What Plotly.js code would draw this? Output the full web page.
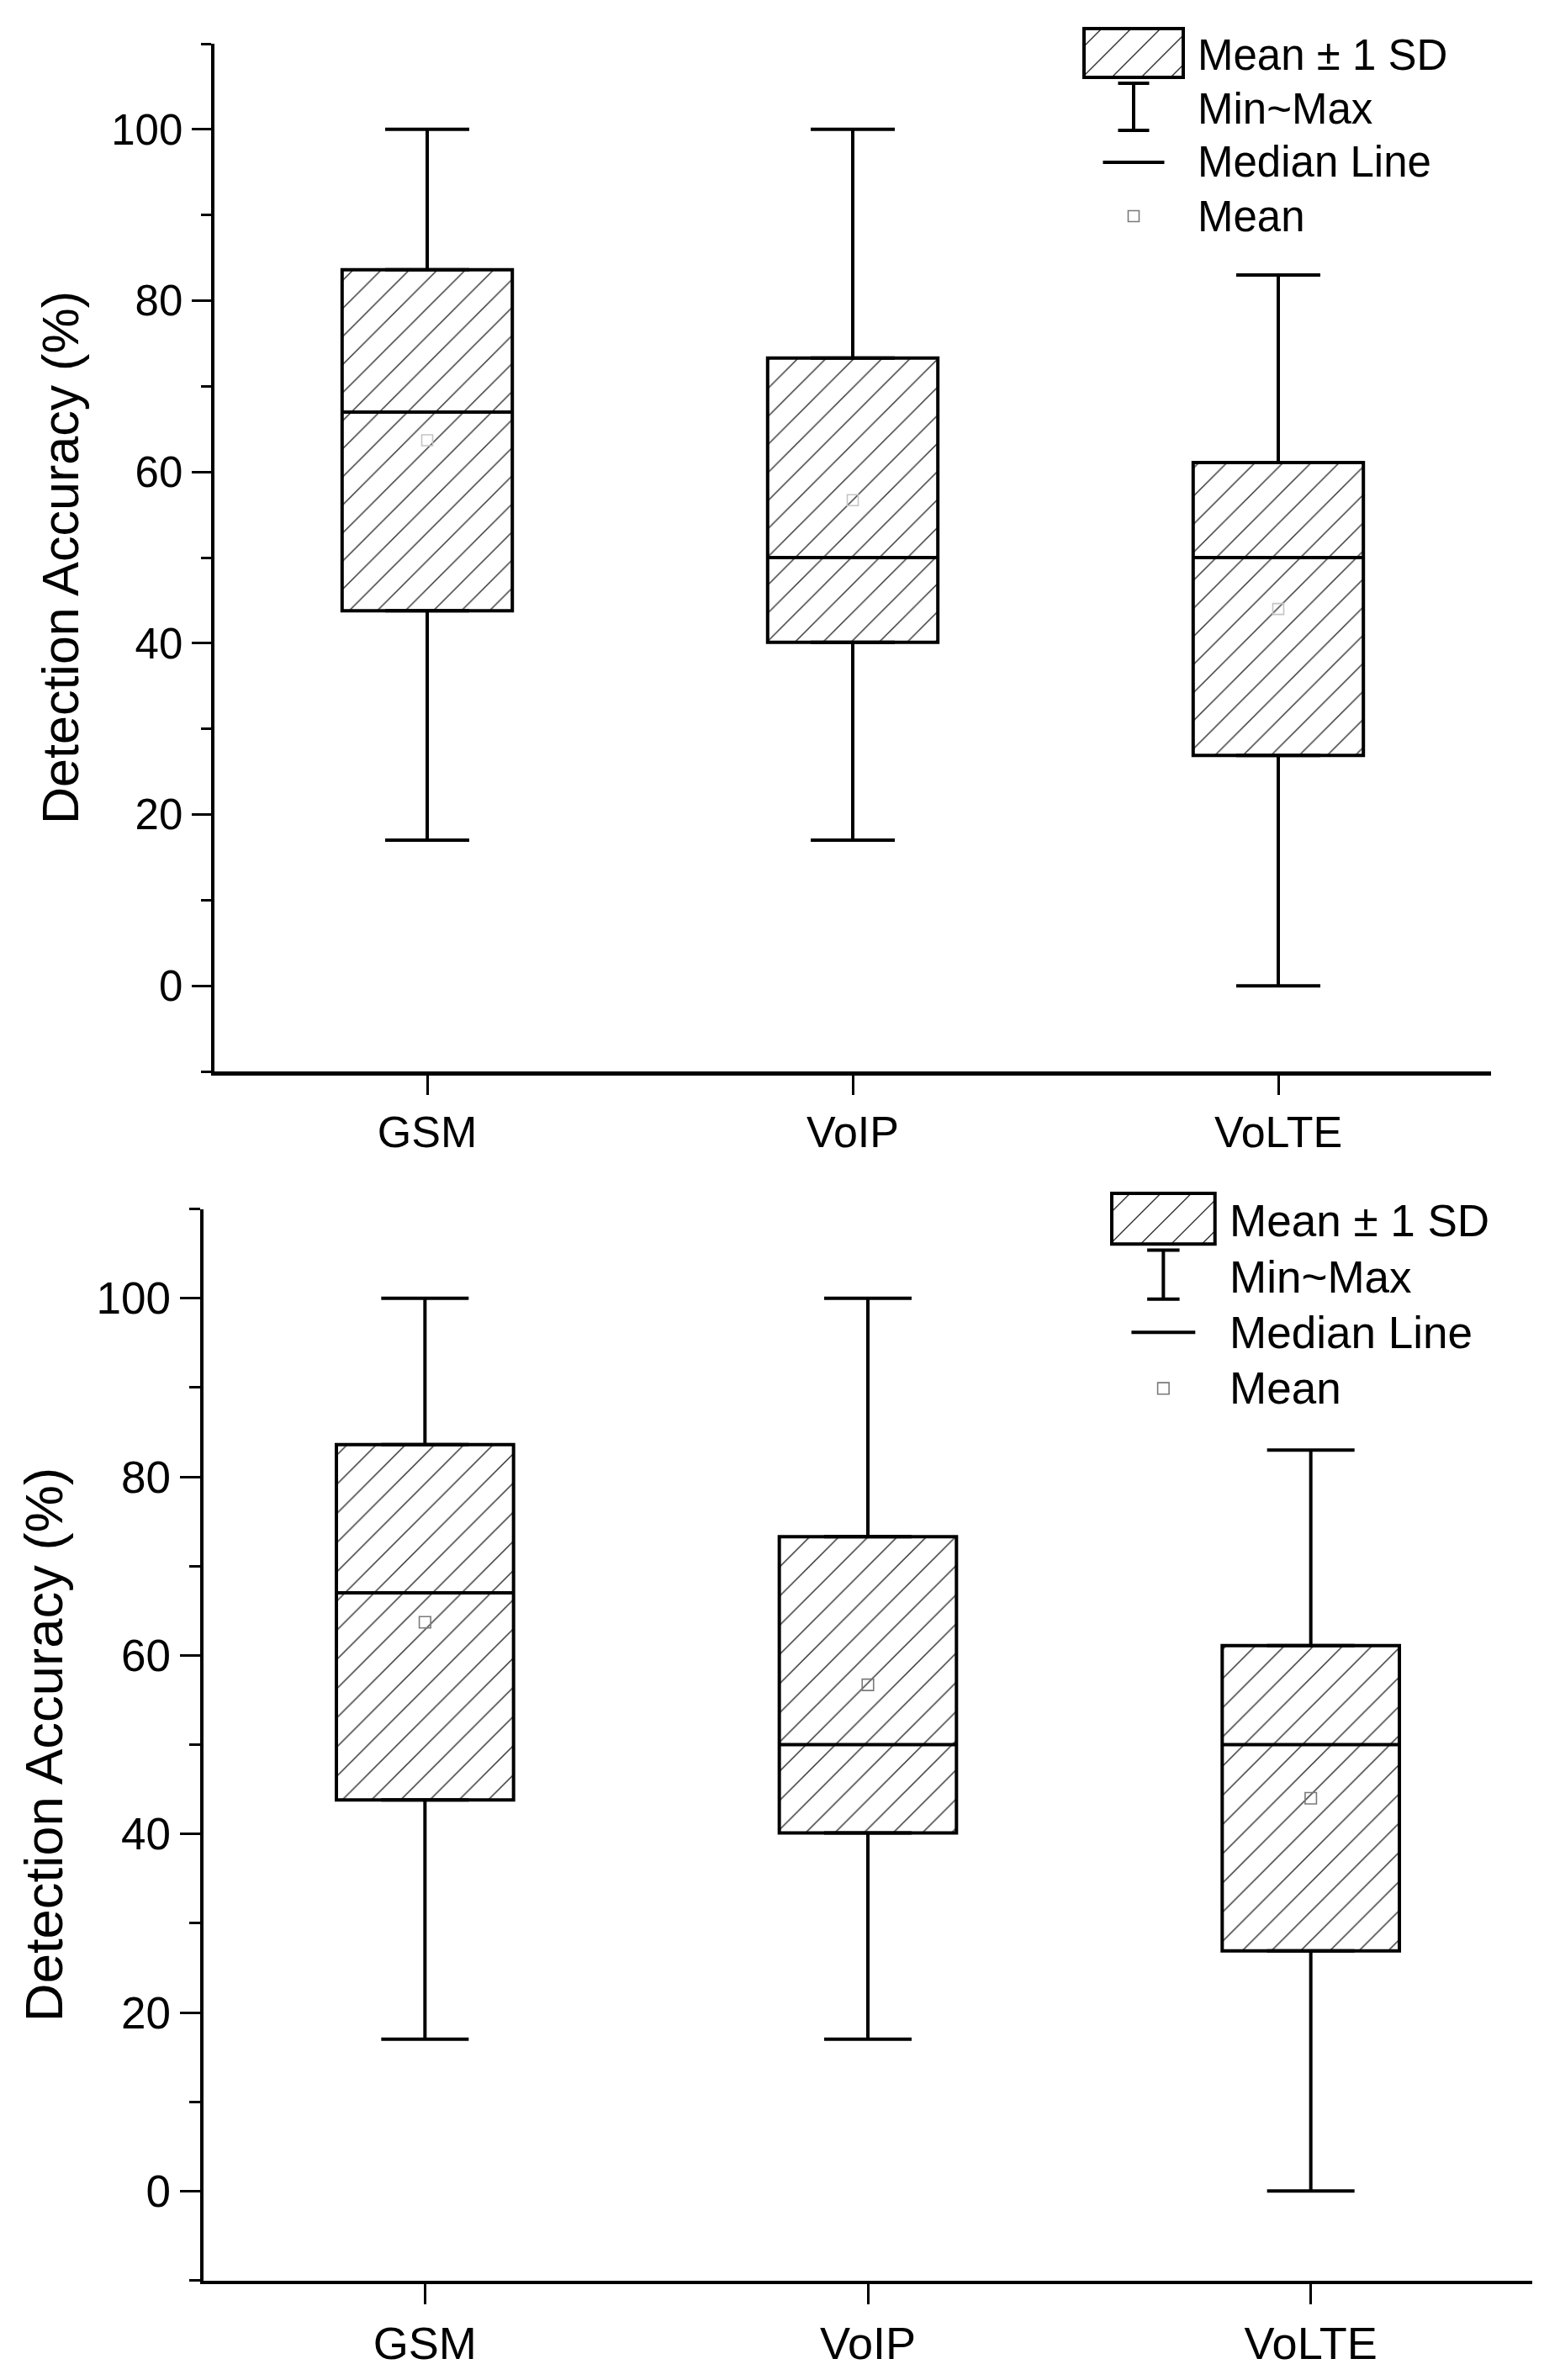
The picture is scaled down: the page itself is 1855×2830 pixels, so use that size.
<!DOCTYPE html>
<html>
<head>
<meta charset="utf-8">
<script src="https://cdn.plot.ly/plotly-3.0.1.min.js"></script>
<style>html,body{margin:0;padding:0;background:#fff}</style>
</head>
<body>
<div id="chart" style="width:1855px;height:2830px"></div>
<script>
// Detection accuracy per call type: box = mean ± 1 SD, whiskers = min..max
const categories = ['GSM', 'VoIP', 'VoLTE'];
const positions = [1, 2, 3];
const meanVals = [63.7, 56.7, 44.0];
const sdVals = [19.9, 16.6, 17.1];
const medianVals = [67, 50, 50];
const minVals = [17, 17, 0];
const maxVals = [100, 100, 83];
const yTickVals = [0, 20, 40, 60, 80, 100];
const legendLabels = ['Mean \u00b1 1 SD', 'Min~Max', 'Median Line', 'Mean'];
const yTitle = 'Detection Accuracy (%)';

const W = 1855, H = 2830;
const FONT = '"Liberation Sans", Arial, Helvetica, sans-serif';
const LW = 4;

// two stacked copies of the same chart, the lower one slightly larger
const panels = [
  {xs: '', px: [255, 1773], py: [52, 1274], s: 1.0, meanColor: '#c4c4c4', legend: {x: 1289, y: 34}},
  {xs: '2', px: [242, 1822], py: [1437.5, 2711.5], s: 1.04, meanColor: '#7a7a7a', legend: {x: 1322, y: 1419}}
];

const boxLow = meanVals.map((m, i) => m - sdVals[i]);
const boxHigh = meanVals.map((m, i) => m + sdVals[i]);
const zeros = positions.map(() => 0);

const traces = [];
const layout = {
  width: W, height: H,
  margin: {l: 0, r: 0, t: 0, b: 0},
  paper_bgcolor: '#fff', plot_bgcolor: '#fff',
  showlegend: false,
  font: {family: FONT, color: '#000'},
  shapes: [], annotations: []
};

const px2x = v => v / W;
const px2y = v => 1 - v / H;

panels.forEach(p => {
  const xa = 'x' + p.xs, ya = 'y' + p.xs;
  const s = p.s;

  // hatched mean ± SD boxes
  traces.push({
    type: 'bar', xaxis: xa, yaxis: ya,
    x: positions, base: boxLow, y: boxHigh.map((h, i) => h - boxLow[i]),
    width: 0.4,
    marker: {
      color: '#fff',
      line: {color: '#000', width: LW},
      pattern: {shape: '/', fgcolor: '#333', bgcolor: '#fff', size: 23.6 * s, solidity: 0.06}
    },
    hoverinfo: 'skip'
  });
  // upper whisker to max
  traces.push({
    type: 'scatter', mode: 'markers', xaxis: xa, yaxis: ya,
    x: positions, y: boxHigh,
    marker: {size: 1, opacity: 0},
    error_y: {type: 'data', symmetric: false, array: maxVals.map((m, i) => m - boxHigh[i]), arrayminus: zeros,
              width: 50 * s, thickness: LW, color: '#000'},
    hoverinfo: 'skip'
  });
  // lower whisker to min
  traces.push({
    type: 'scatter', mode: 'markers', xaxis: xa, yaxis: ya,
    x: positions, y: boxLow,
    marker: {size: 1, opacity: 0},
    error_y: {type: 'data', symmetric: false, array: zeros, arrayminus: boxLow.map((b, i) => b - minVals[i]),
              width: 50 * s, thickness: LW, color: '#000'},
    hoverinfo: 'skip'
  });
  // median lines across the boxes
  traces.push({
    type: 'scatter', mode: 'markers', xaxis: xa, yaxis: ya,
    x: positions, y: medianVals,
    marker: {size: 1, opacity: 0},
    error_x: {type: 'constant', value: 0.2, width: 0, thickness: LW, color: '#000'},
    hoverinfo: 'skip'
  });
  // mean markers
  traces.push({
    type: 'scatter', mode: 'markers', xaxis: xa, yaxis: ya,
    x: positions, y: meanVals,
    marker: {symbol: 'square-open', size: 13 * s, color: p.meanColor, line: {width: 1.6, color: p.meanColor}},
    hoverinfo: 'skip'
  });

  const xKey = 'xaxis' + p.xs, yKey = 'yaxis' + p.xs;
  layout[xKey] = {
    domain: [px2x(p.px[0]), px2x(p.px[1])],
    anchor: ya,
    range: [0.5, 3.5],
    tickmode: 'array', tickvals: positions, ticktext: categories,
    ticks: 'outside', ticklen: 23 * s, tickwidth: 3, tickcolor: '#000',
    showline: true, linewidth: 4.5, linecolor: '#000',
    showgrid: false, zeroline: false,
    tickfont: {family: FONT, size: 52 * s, color: '#000'}
  };
  layout[yKey] = {
    domain: [px2y(p.py[1]), px2y(p.py[0])],
    anchor: xa,
    range: [-10, 110],
    tickmode: 'array', tickvals: yTickVals,
    ticks: 'outside', ticklen: 23 * s, tickwidth: 3, tickcolor: '#000',
    minor: {dtick: 10, tick0: 0, ticks: 'outside', ticklen: 12 * s, tickwidth: 3, tickcolor: '#000', showgrid: false},
    showline: true, linewidth: 4.5, linecolor: '#000',
    showgrid: false, zeroline: false,
    tickfont: {family: FONT, size: 51 * s, color: '#000'},
    title: {text: yTitle, font: {family: FONT, size: 61 * s, color: '#000'}, standoff: 20 * s}
  };

  // legend drawn in pixel space
  const L = p.legend;
  const bw = 118 * s, bh = 58 * s;
  const x0 = L.x, y0 = L.y, x1 = L.x + bw, y1 = L.y + bh;
  const lineShape = (ax, ay, bx, by, color, width) => ({
    type: 'line', xref: 'paper', yref: 'paper',
    x0: px2x(ax), y0: px2y(ay), x1: px2x(bx), y1: px2y(by),
    line: {color: color, width: width}
  });
  layout.shapes.push({
    type: 'rect', xref: 'paper', yref: 'paper',
    x0: px2x(x0), y0: px2y(y1), x1: px2x(x1), y1: px2y(y0),
    fillcolor: '#fff', line: {width: 0}
  });
  const step = 35 * s;
  for (let k = x0 + y0 + step * 0.6; k < x1 + y1; k += step) {
    const sx = Math.max(x0, k - y1), ex = Math.min(x1, k - y0);
    if (ex - sx < 2) continue;
    layout.shapes.push(lineShape(sx, k - sx, ex, k - ex, '#333', 1.4));
  }
  layout.shapes.push({
    type: 'rect', xref: 'paper', yref: 'paper',
    x0: px2x(x0), y0: px2y(y1), x1: px2x(x1), y1: px2y(y0),
    line: {color: '#000', width: LW}
  });
  // min~max symbol
  const cx = x0 + bw / 2;
  const iTop = y0 + 65 * s, iBot = y0 + 121 * s, capW = 18.5 * s;
  layout.shapes.push(lineShape(cx, iTop, cx, iBot, '#000', LW));
  layout.shapes.push(lineShape(cx - capW, iTop, cx + capW, iTop, '#000', LW));
  layout.shapes.push(lineShape(cx - capW, iBot, cx + capW, iBot, '#000', LW));
  // median symbol
  const my = y0 + 159 * s;
  layout.shapes.push(lineShape(cx - 36.5 * s, my, cx + 36.5 * s, my, '#000', LW));
  // mean symbol
  const qy = y0 + 223 * s, half = 6.5 * s;
  layout.shapes.push({
    type: 'rect', xref: 'paper', yref: 'paper',
    x0: px2x(cx - half), y0: px2y(qy + half), x1: px2x(cx + half), y1: px2y(qy - half),
    line: {color: '#7a7a7a', width: 1.6}, fillcolor: 'rgba(0,0,0,0)'
  });
  const rows = [31, 96, 159, 223];
  legendLabels.forEach((t, i) => {
    layout.annotations.push({
      xref: 'paper', yref: 'paper', showarrow: false,
      x: px2x(x0 + 133 * s), y: px2y(y0 + rows[i] * s),
      xanchor: 'left', yanchor: 'middle',
      text: t, font: {family: FONT, size: 51 * s, color: '#000'}
    });
  });
});

Plotly.newPlot('chart', traces, layout, {displayModeBar: false, staticPlot: true});
</script>
</body>
</html>
